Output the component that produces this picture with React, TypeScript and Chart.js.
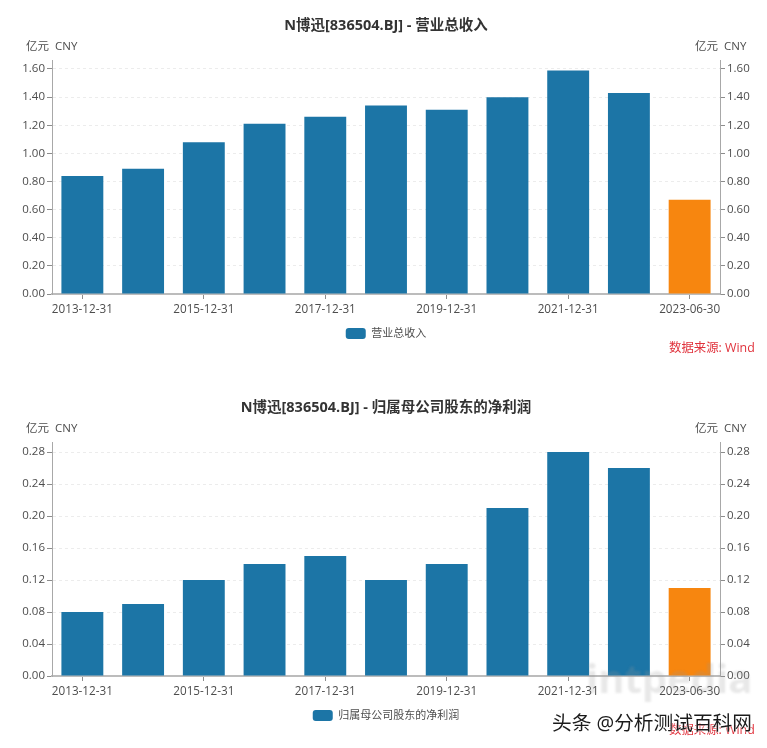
import { useEffect, useRef } from "react";
import { Chart, registerables } from "chart.js";

Chart.register(...registerables);

const FONT = '"Open Sans", "Noto Sans CJK SC", sans-serif';

const dates = [
  "2013-12-31",
  "2014-12-31",
  "2015-12-31",
  "2016-12-31",
  "2017-12-31",
  "2018-12-31",
  "2019-12-31",
  "2020-12-31",
  "2021-12-31",
  "2022-12-31",
  "2023-06-30",
];
const revenue = [0.84, 0.89, 1.08, 1.21, 1.26, 1.34, 1.31, 1.4, 1.59, 1.43, 0.67];
const profit = [0.08, 0.09, 0.12, 0.14, 0.15, 0.12, 0.14, 0.21, 0.28, 0.26, 0.11];

const BLUE = "#1c75a6";
const ORANGE = "#f7860f";

interface PanelProps {
  top: number;
  title: string;
  seriesName: string;
  values: number[];
  axisMax: number;
  step: number;
}

const Panel = ({ top, title, seriesName, values, axisMax, step }: PanelProps) => {
  const canvasRef = useRef<HTMLCanvasElement>(null);

  useEffect(() => {
    if (!canvasRef.current) return;

    const yAxis = (position: "left" | "right", showGrid: boolean) => ({
      position,
      min: 0,
      max: axisMax,
      afterFit: (scale: any) => {
        scale.width = 47;
      },
      border: { display: true, color: "#a8a8a8", width: 1, dash: showGrid ? [3, 3] : [] },
      grid: {
        drawOnChartArea: showGrid,
        color: "#ececec",
        tickColor: "#8c8c8c",
        tickLength: 5,
        tickBorderDash: [],
      },
      ticks: {
        stepSize: step,
        includeBounds: false,
        color: "#4d4d4d",
        padding: 2,
        font: { family: FONT, size: 11.5 },
        callback: (v: any) => Number(v).toFixed(2),
      },
    });

    const chart = new Chart(canvasRef.current, {
      type: "bar",
      data: {
        labels: dates,
        datasets: [
          {
            label: seriesName,
            data: values,
            yAxisID: "y",
            backgroundColor: (ctx: any) =>
              ctx.dataIndex === dates.length - 1 ? ORANGE : BLUE,
            barPercentage: 0.69,
            categoryPercentage: 1,
          },
        ],
      },
      options: {
        responsive: false,
        animation: false,
        layout: { padding: { left: 5, right: 0, top: 0, bottom: 0 } },
        scales: {
          x: {
            afterFit: (scale: any) => {
              scale.height = 28;
            },
            border: { display: true, color: "#bcbcbc", width: 2 },
            grid: {
              offset: false,
              drawOnChartArea: false,
              tickColor: "#8c8c8c",
              tickLength: 5,
            },
            ticks: {
              autoSkip: true,
              maxTicksLimit: 6,
              maxRotation: 0,
              color: "#4d4d4d",
              padding: 4,
              font: { family: FONT, size: 11.7 },
            },
          },
          y: yAxis("left", true),
          yRight: yAxis("right", false),
        } as any,
        plugins: {
          title: {
            display: true,
            text: title,
            color: "#333333",
            font: { family: FONT, size: 14.5, weight: "bold" },
            padding: { top: 17, bottom: 25.6 },
          },
          legend: {
            position: "bottom",
            labels: {
              boxWidth: 20,
              boxHeight: 11,
              useBorderRadius: true,
              borderRadius: 3,
              padding: 6,
              color: "#4d4d4d",
              font: { family: FONT, size: 11 },
              generateLabels: () => [
                {
                  text: seriesName,
                  fillStyle: BLUE,
                  strokeStyle: BLUE,
                  lineWidth: 0,
                  borderRadius: 3,
                  fontColor: "#4d4d4d",
                },
              ],
            },
          },
          tooltip: { enabled: false },
        },
      },
    });

    return () => {
      chart.destroy();
    };
  }, [title, seriesName, values, axisMax, step]);

  const textStyle = {
    position: "absolute" as const,
    fontFamily: FONT,
    whiteSpace: "nowrap" as const,
  };

  return (
    <div style={{ position: "absolute", left: 0, top, width: 767, height: 366 }}>
      <canvas ref={canvasRef} width={767} height={349} style={{ display: "block" }} />
      <div style={{ ...textStyle, left: 26, top: 37, fontSize: 11.5, color: "#4d4d4d" }}>亿元&nbsp; CNY</div>
      <div style={{ ...textStyle, left: 695, top: 37, fontSize: 11.5, color: "#4d4d4d" }}>亿元&nbsp; CNY</div>
      <div style={{ ...textStyle, left: 669, top: 338, fontSize: 12.4, color: "#e0323c" }}>数据来源: Wind</div>
    </div>
  );
};

const App = () => (
  <div style={{ position: "absolute", left: 0, top: 0, width: 767, height: 748, background: "#fff", overflow: "hidden" }}>
    <Panel
      top={0}
      title="N博迅[836504.BJ] - 营业总收入"
      seriesName="营业总收入"
      values={revenue}
      axisMax={1.664}
      step={0.2}
    />
    <Panel
      top={382}
      title="N博迅[836504.BJ] - 归属母公司股东的净利润"
      seriesName="归属母公司股东的净利润"
      values={profit}
      axisMax={0.2926}
      step={0.04}
    />
    <div
      style={{
        position: "absolute",
        left: 586,
        top: 650,
        fontFamily: FONT,
        fontSize: 40,
        fontWeight: 700,
        color: "rgba(150,150,150,0.22)",
        filter: "blur(1px)",
      }}
    >
      intpedia
    </div>
    <div
      style={{
        position: "absolute",
        left: 552,
        top: 707,
        fontFamily: FONT,
        fontSize: 19.7,
        color: "#1a1a1a",
        whiteSpace: "nowrap",
        textShadow: "0 0 2px #fff, 0 0 2px #fff",
      }}
    >
      头条 @分析测试百科网
    </div>
  </div>
);

export default App;
